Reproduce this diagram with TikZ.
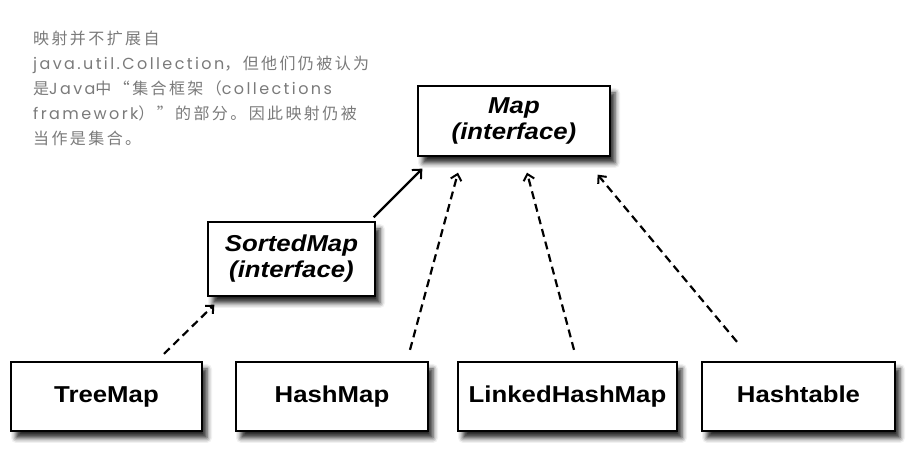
\documentclass[tikz,border=0pt]{standalone}
\usepackage{fontspec}
\usepackage{xcolor}
\usepackage{tikz}
\usetikzlibrary{shapes,arrows,arrows.meta,positioning,fit,calc,shadows.blur}
\newfontfamily\boxfont[FakeStretch=1.12]{Liberation Sans}
\newfontfamily\cjkfont[LetterSpace=15]{Noto Sans CJK SC}
\newfontfamily\notelatfont[LetterSpace=15]{Poppins}
\newcommand{\notelat}[1]{{\notelatfont #1}}
\definecolor{notegray}{gray}{0.48}

\begin{document}
\begin{tikzpicture}[
    x=1pt, y=1pt,
    every node/.style={font=\boxfont\fontsize{23}{26}\selectfont\bfseries, align=center},
    box/.style={draw, line width=1.3pt, fill=white,
      blur shadow={shadow xshift=5pt, shadow yshift=-7pt, shadow blur radius=5pt, shadow opacity=85}},
    class/.style={box, minimum height=69pt, text height=16.5pt, text depth=5pt},
    iface/.style={box, font=\boxfont\fontsize{23}{26}\selectfont\bfseries\itshape},
    extends/.style={-{Straight Barb[length=7pt,width=13pt,line width=2pt]}, line width=2.2pt},
    impl/.style={-{Straight Barb[length=6pt,width=11pt,line width=2pt]}, line width=2.2pt, dash pattern=on 8pt off 5pt}
]
\useasboundingbox (0,0) rectangle (919,452);

% note
\node[anchor=north west, inner sep=0, align=left, text=notegray,
  font=\cjkfont\fontsize{16}{25}\selectfont] (note) at (33,421) {%
  映射并不扩展自\\
  \notelat{java.util.Collection}，但他们仍被认为\\
  是\notelat{Java}中“集合框架（\notelat{collections}\\
  \notelat{framework}）”的部分。因此映射仍被\\
  当作是集合。};

% interfaces
\node[iface, minimum width=192pt, minimum height=70pt] (Map) at (514,331) {Map\\(interface)};
\node[iface, minimum width=167pt, minimum height=74pt] (SortedMap) at (291.5,193) {SortedMap\\(interface)};

% classes
\node[class, minimum width=191pt] (TreeMap) at (106.5,55.5) {TreeMap};
\node[class, minimum width=192pt] (HashMap) at (332,55.5) {HashMap};
\node[class, minimum width=219pt] (LinkedHashMap) at (567.5,55.5) {LinkedHashMap};
\node[class, minimum width=193pt] (Hashtable) at (798.5,55.5) {Hashtable};

% arrows
\draw[extends] ($(SortedMap.north east)+(-2pt,4pt)$) -- ($(Map.south west)+(5pt,-12pt)$);
\draw[impl] ($(TreeMap.north)+(57.5pt,7.5pt)$) -- ($(SortedMap.south west)+(7pt,-8pt)$);
\draw[impl] ($(HashMap.north)+(78pt,11.5pt)$) -- ($(Map.south)+(-56pt,-16pt)$);
\draw[impl] ($(LinkedHashMap.north)+(6.5pt,11.5pt)$) -- ($(Map.south)+(13pt,-16pt)$);
\draw[impl] ($(Hashtable.north)+(-61.5pt,19.5pt)$) -- ($(Map.south east)+(-13pt,-18pt)$);
\end{tikzpicture}
\end{document}
